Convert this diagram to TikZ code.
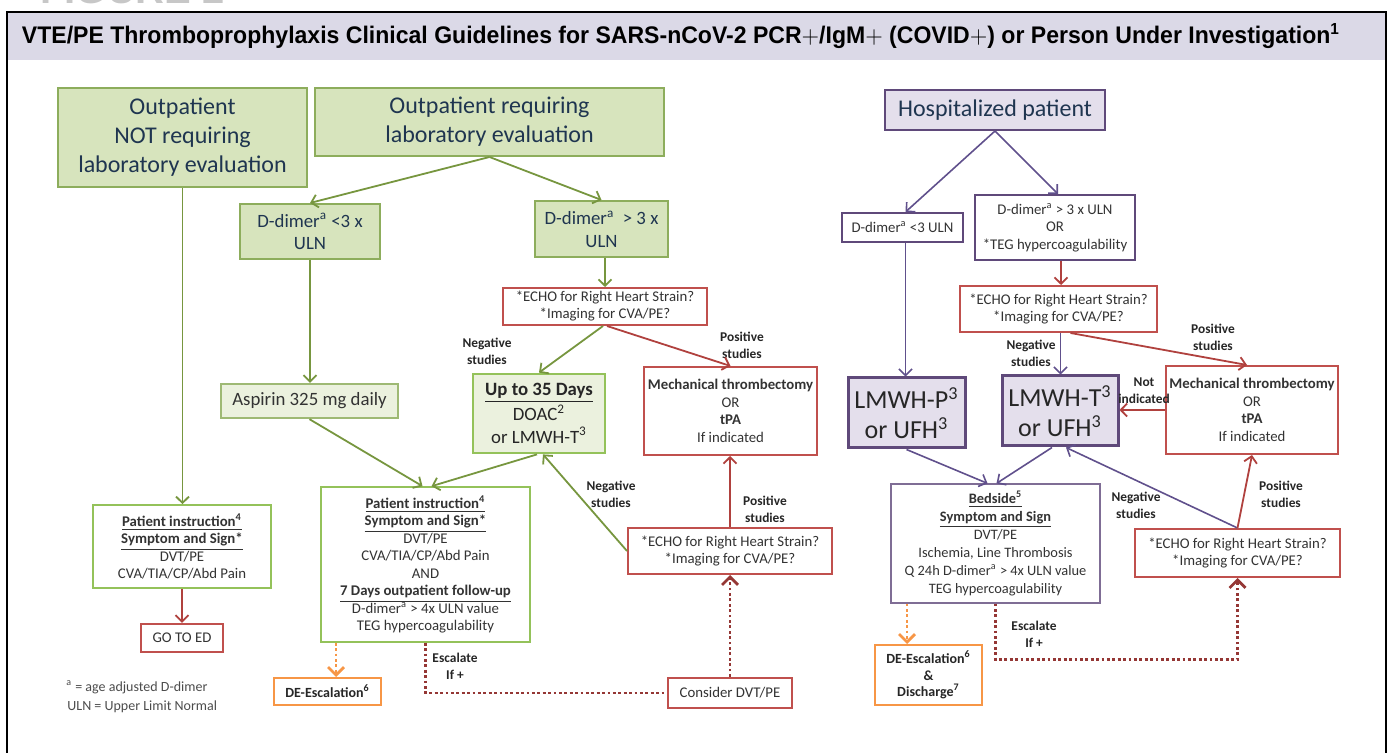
\documentclass[tikz,border=0pt]{standalone}
\usepackage{fontspec}
\setmainfont{Carlito}
\newfontfamily\titlefont{Liberation Sans}
\usepackage{graphicx}
\usetikzlibrary{arrows.meta}

\definecolor{hdrfill}{HTML}{DBD9E7}
\definecolor{grnfill}{HTML}{D7E4BD}
\definecolor{grnline}{HTML}{8DAD5C}
\definecolor{grnpale}{HTML}{EBF1DE}
\definecolor{grnbright}{HTML}{94C25A}
\definecolor{grnarr}{HTML}{77963F}
\definecolor{navytext}{HTML}{1F3550}
\definecolor{bodytext}{HTML}{333333}
\definecolor{redline}{HTML}{C0504D}
\definecolor{redarr}{HTML}{B0413E}
\definecolor{escred}{HTML}{953735}
\definecolor{orgline}{HTML}{F79646}
\definecolor{purline}{HTML}{5F497A}
\definecolor{purfill}{HTML}{E4DFEC}
\definecolor{purarr}{HTML}{60508C}

\newcommand\bigfont{\fontsize{12}{14.5}\selectfont}
\newcommand\midfont{\fontsize{9.4}{11.3}\selectfont}
\newcommand\smallfont{\fontsize{7.4}{8.75}\selectfont}
\newcommand\ulb[1]{\textbf{\underline{#1}}}

\tikzset
{
    box/.style        = {align=center, inner sep=0pt, text=bodytext, font=\smallfont},
    outbox/.style     = {box, draw=grnline, fill=grnfill, line width=1pt, text=navytext},
    aspbox/.style     = {box, draw=grnline!85!white, fill=grnpale, line width=1.2pt, font=\midfont},
    daysbox/.style    = {box, draw=grnbright, fill=grnpale, line width=1.4pt, font=\midfont, text=black!85},
    instrbox/.style   = {box, draw=grnbright, fill=white, line width=0.8pt},
    redbox/.style     = {box, draw=redline, fill=white, line width=1pt},
    orgbox/.style     = {box, draw=orgline, fill=white, line width=1pt, font=\fontsize{7}{8.25}\selectfont\bfseries, text=black!85},
    hospbox/.style    = {box, draw=purline, fill=purfill, line width=1pt, font=\bigfont, text=navytext},
    purbox/.style     = {box, draw=purline, fill=white, line width=1pt},
    heparinbox/.style = {box, draw=purline, fill=purfill, line width=1.5pt, font=\fontsize{13}{15}\selectfont, text=black!85},
    bedbox/.style     = {box, draw=purline!80!white, fill=white, line width=0.6pt, font=\fontsize{7.2}{9}\selectfont},
    lbl/.style        = {align=center, inner sep=0pt, font=\fontsize{6.7}{8.5}\selectfont\bfseries, text=black!85},
    footnote/.style   = {anchor=west, inner sep=0pt, font=\fontsize{7}{8}\selectfont, text=black!70},
    grnarrow/.style   = {draw=grnarr, line width=0.9pt, -{Straight Barb[length=3.2pt,width=6.5pt]}},
    redarrow/.style   = {draw=redarr, line width=0.9pt, -{Straight Barb[length=3.2pt,width=6.5pt]}},
    purarrow/.style   = {draw=purarr, line width=0.8pt, -{Straight Barb[length=3.2pt,width=6.5pt]}},
    escline/.style    = {draw=escred, line width=1.4pt, dash pattern=on 1.4pt off 1.3pt},
    escarrow/.style   = {escline, -{Straight Barb[length=4pt,width=8pt]}},
    orgarrow/.style   = {draw=orgline, line width=1.4pt, dash pattern=on 1.4pt off 1.3pt, -{Straight Barb[length=4pt,width=8pt]}}
}

\begin{document}
\begin{tikzpicture}[x=0.5pt, y=-0.5pt]
	\useasboundingbox (0,0) rectangle (1392,753);
	% frame and header
	\node[anchor=base west, inner sep=0pt, text=black!22, font=\titlefont\bfseries\fontsize{20}{20}\selectfont] (figno) at (40,4) {FIGURE 2};
	\fill[hdrfill] (7,12) rectangle (1386,60);
	\draw[line width=1.4pt] (7,800) -- (7,12) -- (1386,12) -- (1386,800);
	\node[inner sep=0pt, font=\titlefont\bfseries\fontsize{12}{14}\selectfont] (title) at (681,36)
		{\resizebox{659pt}{\height}{VTE/PE Thromboprophylaxis Clinical Guidelines for SARS-nCoV-2 PCR$+$/IgM$+$ (COVID$+$) or Person Under Investigation\textsuperscript{1}}};

	% outpatient side
	\node[outbox, font=\bigfont, minimum width=124.5pt, minimum height=49.5pt] (outnolab) at (182.5,137.5) {Outpatient\\NOT requiring\\laboratory evaluation};
	\node[outbox, font=\bigfont, minimum width=174.5pt, minimum height=34pt] (outlab) at (489.5,122) {Outpatient requiring\\laboratory evaluation};
	\node[outbox, font=\midfont, minimum width=70pt, minimum height=27.5pt] (ddlow) at (310,231.5) {D-dimer\textsuperscript{a} <3 x\\ULN};
	\node[outbox, font=\midfont, minimum width=66.5pt, minimum height=28pt] (ddhigh) at (601.5,229) {D-dimer\textsuperscript{a}\ \ > 3 x\\ULN};
	\node[redbox, font=\fontsize{7.4}{8.5}\selectfont, minimum width=102pt, minimum height=18.5pt] (echomid) at (605,306.5) {*ECHO for Right Heart Strain?\\*Imaging for CVA/PE?};
	\node[daysbox, minimum width=66pt, minimum height=39.5pt] (thirtyfive) at (539,413.5) {\ulb{Up to 35 Days}\\DOAC\textsuperscript{2}\\or LMWH-T\textsuperscript{3}};
	\node[redbox, minimum width=86.5pt, minimum height=44pt] (thrombmid) at (730.5,411) {\textbf{Mechanical thrombectomy}\\OR\\\textbf{tPA}\\If indicated};
	\node[aspbox, minimum width=88.5pt, minimum height=17pt] (aspirin) at (309.5,401) {Aspirin 325 mg daily};
	\node[instrbox, minimum width=89pt, minimum height=41.5pt] (instrleft) at (182,546.5) {\ulb{Patient instruction\textsuperscript{4}}\\\ulb{Symptom and Sign*}\\DVT/PE\\CVA/TIA/CP/Abd Pain};
	\node[redbox, minimum width=41pt, minimum height=14pt, line width=1.2pt] (gotoed) at (182,638) {GO TO ED};
	\node[instrbox, minimum width=104.5pt, minimum height=77.5pt] (instrmid) at (425.5,564.5) {\ulb{Patient instruction\textsuperscript{4}}\\\ulb{Symptom and Sign*}\\DVT/PE\\CVA/TIA/CP/Abd Pain\\AND\\\ulb{7 Days outpatient follow-up}\\D-dimer\textsuperscript{a} > 4x ULN value\\TEG hypercoagulability};
	\node[orgbox, minimum width=53.5pt, minimum height=13.5pt] (deescmid) at (327.5,691.5) {DE-Escalation\textsuperscript{6}};
	\node[redbox, minimum width=102pt, minimum height=23pt] (echolow) at (730,551) {*ECHO for Right Heart Strain?\\*Imaging for CVA/PE?};
	\node[redbox, minimum width=62pt, minimum height=15pt, line width=1.2pt] (consider) at (730,693) {Consider DVT/PE};
	\node[footnote] (fnage) at (66,687) {\textsuperscript{a} = age adjusted D-dimer};
	\node[footnote] (fnuln) at (67,707) {ULN = Upper Limit Normal};

	% hospitalized side
	\node[hospbox, minimum width=110pt, minimum height=20pt] (hosp) at (995,110) {Hospitalized patient};
	\node[purbox, minimum width=60.5pt, minimum height=14.5pt] (hddlow) at (902.5,227.5) {D-dimer\textsuperscript{a} <3 ULN};
	\node[purbox, minimum width=80pt, minimum height=32.5pt] (hddhigh) at (1055,227.5) {D-dimer\textsuperscript{a} > 3 x ULN\\OR\\*TEG hypercoagulability};
	\node[redbox, minimum width=98.5pt, minimum height=23pt] (echohosp) at (1058.5,309) {*ECHO for Right Heart Strain?\\*Imaging for CVA/PE?};
	\node[heparinbox, minimum width=58.5pt, minimum height=35pt] (lmwhp) at (906.5,413) {LMWH-P\textsuperscript{3}\\or UFH\textsuperscript{3}};
	\node[heparinbox, minimum width=58pt, minimum height=35pt] (lmwht) at (1060,411) {LMWH-T\textsuperscript{3}\\or UFH\textsuperscript{3}};
	\node[redbox, minimum width=86pt, minimum height=44pt] (thrombhosp) at (1252,410) {\textbf{Mechanical thrombectomy}\\OR\\\textbf{tPA}\\If indicated};
	\node[bedbox, minimum width=104.5pt, minimum height=59.5pt] (bedside) at (995.5,543.5) {\ulb{Bedside\textsuperscript{5}}\\\ulb{Symptom and Sign}\\DVT/PE\\Ischemia, Line Thrombosis\\Q 24h D-dimer\textsuperscript{a} > 4x ULN value\\TEG hypercoagulability};
	\node[redbox, minimum width=102.5pt, minimum height=24pt] (echohosplow) at (1237.5,553) {*ECHO for Right Heart Strain?\\*Imaging for CVA/PE?};
	\node[orgbox, minimum width=53.5pt, minimum height=30pt] (deeschosp) at (928.5,675) {DE-Escalation\textsuperscript{6}\\\&\\Discharge\textsuperscript{7}};

	% arrow labels
	\node[lbl] (negA) at (487,351) {Negative\\studies};
	\node[lbl] (posA) at (742,345) {Positive\\studies};
	\node[lbl] (negB) at (611,494) {Negative\\studies};
	\node[lbl] (posB) at (765,509) {Positive\\studies};
	\node[lbl] (escA) at (455,666) {Escalate\\If +};
	\node[lbl] (negC) at (1031,353) {Negative\\studies};
	\node[lbl] (posC) at (1213,337) {Positive\\studies};
	\node[lbl] (notind) at (1144,391) {Not\\indicated};
	\node[lbl] (negD) at (1136,505) {Negative\\studies};
	\node[lbl] (posD) at (1281,494) {Positive\\studies};
	\node[lbl] (escB) at (1034,634) {Escalate\\If +};

	% outpatient connectors
	\draw[grnarrow] (outnolab.south) -- (outnolab.south |- instrleft.north);
	\draw[grnarrow] (outlab.south) -- (ddlow.north);
	\draw[grnarrow] (outlab.south) -- (ddhigh.north);
	\draw[grnarrow] (ddlow.south) -- (ddlow.south |- aspirin.north);
	\draw[grnarrow] (echomid.north |- ddhigh.south) -- (echomid.north);
	\draw[grnarrow] ([xshift=-1pt]echomid.south) -- (thirtyfive.north);
	\draw[redarrow] ([xshift=1pt]echomid.south) -- (thrombmid.north);
	\draw[grnarrow] (aspirin.south) -- ([xshift=-1.5pt]instrmid.north);
	\draw[grnarrow] ([xshift=-1pt]thirtyfive.south) -- ([xshift=3pt]instrmid.north);
	\draw[grnarrow] (echolow.west) -- ([xshift=2pt]thirtyfive.south);
	\draw[redarrow] (echolow.north) -- (echolow.north |- thrombmid.south);
	\draw[redarrow] (instrleft.south) -- (instrleft.south |- gotoed.north);
	\draw[orgarrow] ([xshift=-44.75pt]instrmid.south) -- ([xshift=-44.75pt]instrmid.south |- deescmid.north);
	\draw[escline] (instrmid.south) |- (consider.west);
	\draw[escarrow] (consider.north) -- (consider.north |- echolow.south);

	% hospitalized connectors
	\draw[purarrow] (hosp.south) -- ([xshift=1.5pt]hddlow.north);
	\draw[purarrow] (hosp.south) -- ([xshift=1.5pt]hddhigh.north);
	\draw[purarrow] ([xshift=1.5pt]hddlow.south) -- ([xshift=1.5pt]hddlow.south |- lmwhp.north);
	\draw[redarrow] ([xshift=3pt]hddhigh.south) -- ([xshift=3pt]hddhigh.south |- echohosp.north);
	\draw[purarrow] ([xshift=1pt]echohosp.south) -- ([xshift=1pt]echohosp.south |- lmwht.north);
	\draw[redarrow] ([xshift=6pt]echohosp.south) -- ([xshift=-2.5pt]thrombhosp.north);
	\draw[redarrow] (thrombhosp.west) -- (thrombhosp.west -| lmwht.east);
	\draw[purarrow] (lmwhp.south) -- ([xshift=-4pt]bedside.north);
	\draw[purarrow] ([xshift=-4pt]lmwht.south) -- ([xshift=0.5pt]bedside.north);
	\draw[purarrow] (echohosplow.north) -- ([xshift=3pt]lmwht.south);
	\draw[redarrow] (echohosplow.north) -- (thrombhosp.south);
	\draw[orgarrow] ([xshift=-44.25pt]bedside.south) -- ([xshift=-44.25pt]bedside.south |- deeschosp.north);
	\draw[escarrow] (bedside.south) -- ++(0,56) -| (echohosplow.south);
\end{tikzpicture}
\end{document}
